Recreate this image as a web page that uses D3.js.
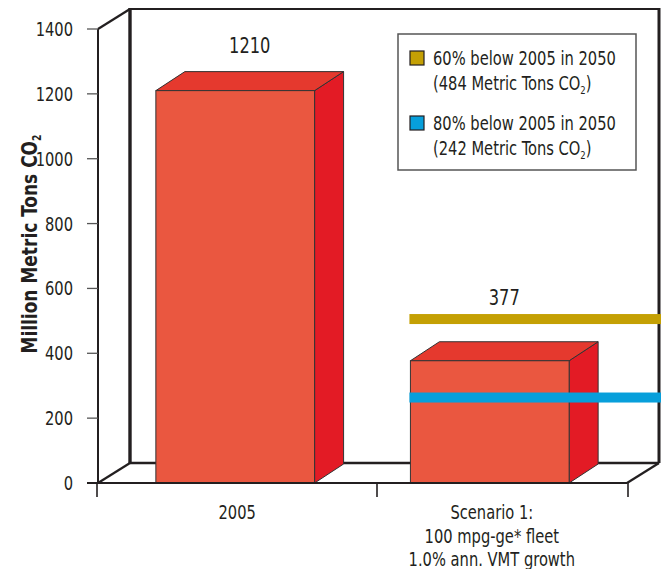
<!DOCTYPE html>
<html>
<head>
<meta charset="utf-8">
<script src="https://cdn.jsdelivr.net/npm/d3@7"></script>
<style>
  html, body { margin: 0; padding: 0; background: #fff; }
  svg text { font-family: "DejaVu Sans Condensed", "DejaVu Sans", Arial, sans-serif; font-stretch: condensed; fill: #231f20; }
</style>
</head>
<body>
<svg id="chart" width="661" height="569"></svg>
<script>
// Data
const categories = ["2005", "Scenario 1"];
const categoryLines = [["2005"], ["Scenario 1:", "100 mpg-ge* fleet", "1.0% ann. VMT growth"]];
const emissions = [1210, 377];
const yTicks = [0, 200, 400, 600, 800, 1000, 1200, 1400];
const targetNames = ["60% below 2005 in 2050", "80% below 2005 in 2050"];
const targetNotes = ["(484 Metric Tons CO", "(242 Metric Tons CO"];
const targetValues = [484, 242];
const targetColors = ["#c4a004", "#079fdb"];

const W = 661, H = 569;
const svg = d3.select("#chart");
const ink = "#231f20";
// horizontal squeeze that gives the narrow, tall lettering
const SX = 0.86;

// Places a text element with its own local squeeze
function label(parent, px, py, size, anchor, rotate) {
  return parent.append("text")
    .attr("transform", `translate(${px},${py})` + (rotate ? ` rotate(${rotate})` : "") + ` scale(${SX},1)`)
    .attr("font-size", size).attr("text-anchor", anchor || "start");
}

// Plot frame (front plane) and 3D depth offsets
const pLeft = 98, pRight = 627, pTop = 29, pBottom = 483;
const wallDX = 32, wallDY = -20;
const barDX = 29, barDY = -19;

const y = d3.scaleLinear().domain([0, 1400]).range([pBottom, pTop]);
const x = d3.scaleBand().domain(categories).range([pLeft, pRight])
  .paddingInner(0.3765).paddingOuter(0.2273);

// Walls: left side wall, back wall and floor
const g = svg.append("g");
function wallLine(x1, y1, x2, y2, w) {
  g.append("line").attr("x1", x1).attr("y1", y1).attr("x2", x2).attr("y2", y2)
    .attr("stroke", ink).attr("stroke-width", w);
}
const bx0 = pLeft + wallDX, bx1 = pRight + wallDX;
const byTop = y(1400) + wallDY, byBot = y(0) + wallDY;
wallLine(pLeft, y(1400), bx0, byTop, 2.2);
wallLine(pLeft, y(0), bx0, byBot, 2.2);
wallLine(pLeft, y(1400), pLeft, y(0), 2);
wallLine(bx0, byTop, bx1, byTop, 2.2);
wallLine(bx0, byTop - 1, bx0, byBot, 3.4);
wallLine(bx1, byTop - 1, bx1, byBot, 3);
wallLine(bx0, byBot, bx1, byBot, 2.4);
wallLine(pRight, y(0), bx1, byBot, 2.2);

// Y axis ticks and labels
const yAxis = svg.append("g");
yTicks.forEach(t => {
  yAxis.append("line").attr("x1", pLeft - 11).attr("x2", pLeft).attr("y1", y(t)).attr("y2", y(t))
    .attr("stroke", "#555").attr("stroke-width", 1.3);
  label(yAxis, 73, y(t) + 7, 19, "end").text(t);
});

// Y axis title
const yTitle = label(svg, 37, 244, 22, "middle", -90).attr("font-weight", "bold");
yTitle.append("tspan").text("Million Metric Tons CO");
yTitle.append("tspan").attr("font-size", 12).attr("dy", 4).text("2");

// Bars (side, top and front faces)
const bw = x.bandwidth();
const bars = svg.append("g").selectAll("g").data(emissions).join("g");
bars.append("polygon").attr("points", (d, i) => {
  const x0 = x(categories[i]), x1 = x0 + bw, yt = y(d);
  return [[x1, yt], [x1 + barDX, yt + barDY], [x1 + barDX, y(0) + barDY], [x1, y(0)]].join(" ");
}).attr("fill", "#e31b25").attr("stroke", "#333").attr("stroke-width", 1);
bars.append("polygon").attr("points", (d, i) => {
  const x0 = x(categories[i]), x1 = x0 + bw, yt = y(d);
  return [[x0, yt], [x0 + barDX, yt + barDY], [x1 + barDX, yt + barDY], [x1, yt]].join(" ");
}).attr("fill", "#e5392e").attr("stroke", "#333").attr("stroke-width", 1);
bars.append("rect")
  .attr("x", (d, i) => x(categories[i])).attr("y", d => y(d))
  .attr("width", bw).attr("height", d => y(0) - y(d))
  .attr("fill", "#ea5740").attr("stroke", "#333").attr("stroke-width", 1);

// Floor front edge drawn over the bars' bases
svg.append("line").attr("x1", pLeft - 11).attr("y1", y(0)).attr("x2", pRight).attr("y2", y(0))
  .attr("stroke", ink).attr("stroke-width", 2.2);

// X axis ticks: ends of the floor and divider between categories
const divider = (x(categories[0]) + bw + barDX + x(categories[1])) / 2;
[pLeft - 1, divider, pRight + 1].forEach(px => {
  svg.append("line").attr("x1", px).attr("x2", px).attr("y1", y(0)).attr("y2", y(0) + 14)
    .attr("stroke", ink).attr("stroke-width", 1.6);
});

// Category labels
categoryLines.forEach((lines, i) => {
  const cx = x(categories[i]) + bw / 2 + 2;
  lines.forEach((ln, k) => {
    label(svg, cx, 519 + k * 23.5, 19, "middle").text(ln);
  });
});

// Target reduction lines across the scenario bar
const lineStart = x(categories[1]) - 1;
targetValues.forEach((v, i) => {
  svg.append("rect").attr("x", lineStart).attr("y", y(v) - 12).attr("width", W - lineStart)
    .attr("height", 10).attr("fill", targetColors[i]);
});

// Value labels above bars (above the target line where one crosses the scenario)
emissions.forEach((v, i) => {
  const cx = x(categories[i]) + bw / 2 + barDX / 2;
  let ly = y(v) + barDY - 19;
  if (i === 1) ly = Math.min(ly, y(d3.max(targetValues)) - 21);
  label(svg, cx, ly, 21, "middle").text(v);
});

// Legend
const lg = svg.append("g");
lg.append("rect").attr("x", 398).attr("y", 34).attr("width", 238).attr("height", 136)
  .attr("fill", "#fff").attr("stroke", "#555").attr("stroke-width", 1.5);
targetValues.forEach((v, i) => {
  const oy = 51 + i * 65;
  lg.append("rect").attr("x", 410).attr("y", oy).attr("width", 14).attr("height", 14)
    .attr("fill", targetColors[i]).attr("stroke", ink).attr("stroke-width", 1.2);
  label(lg, 433, oy + 14, 19).text(targetNames[i]);
  const t2 = label(lg, 433, oy + 39, 19);
  t2.append("tspan").text(targetNotes[i]);
  t2.append("tspan").attr("font-size", 11).attr("dy", 4).text("2");
  t2.append("tspan").attr("dy", -4).text(")");
});
</script>
</body>
</html>
